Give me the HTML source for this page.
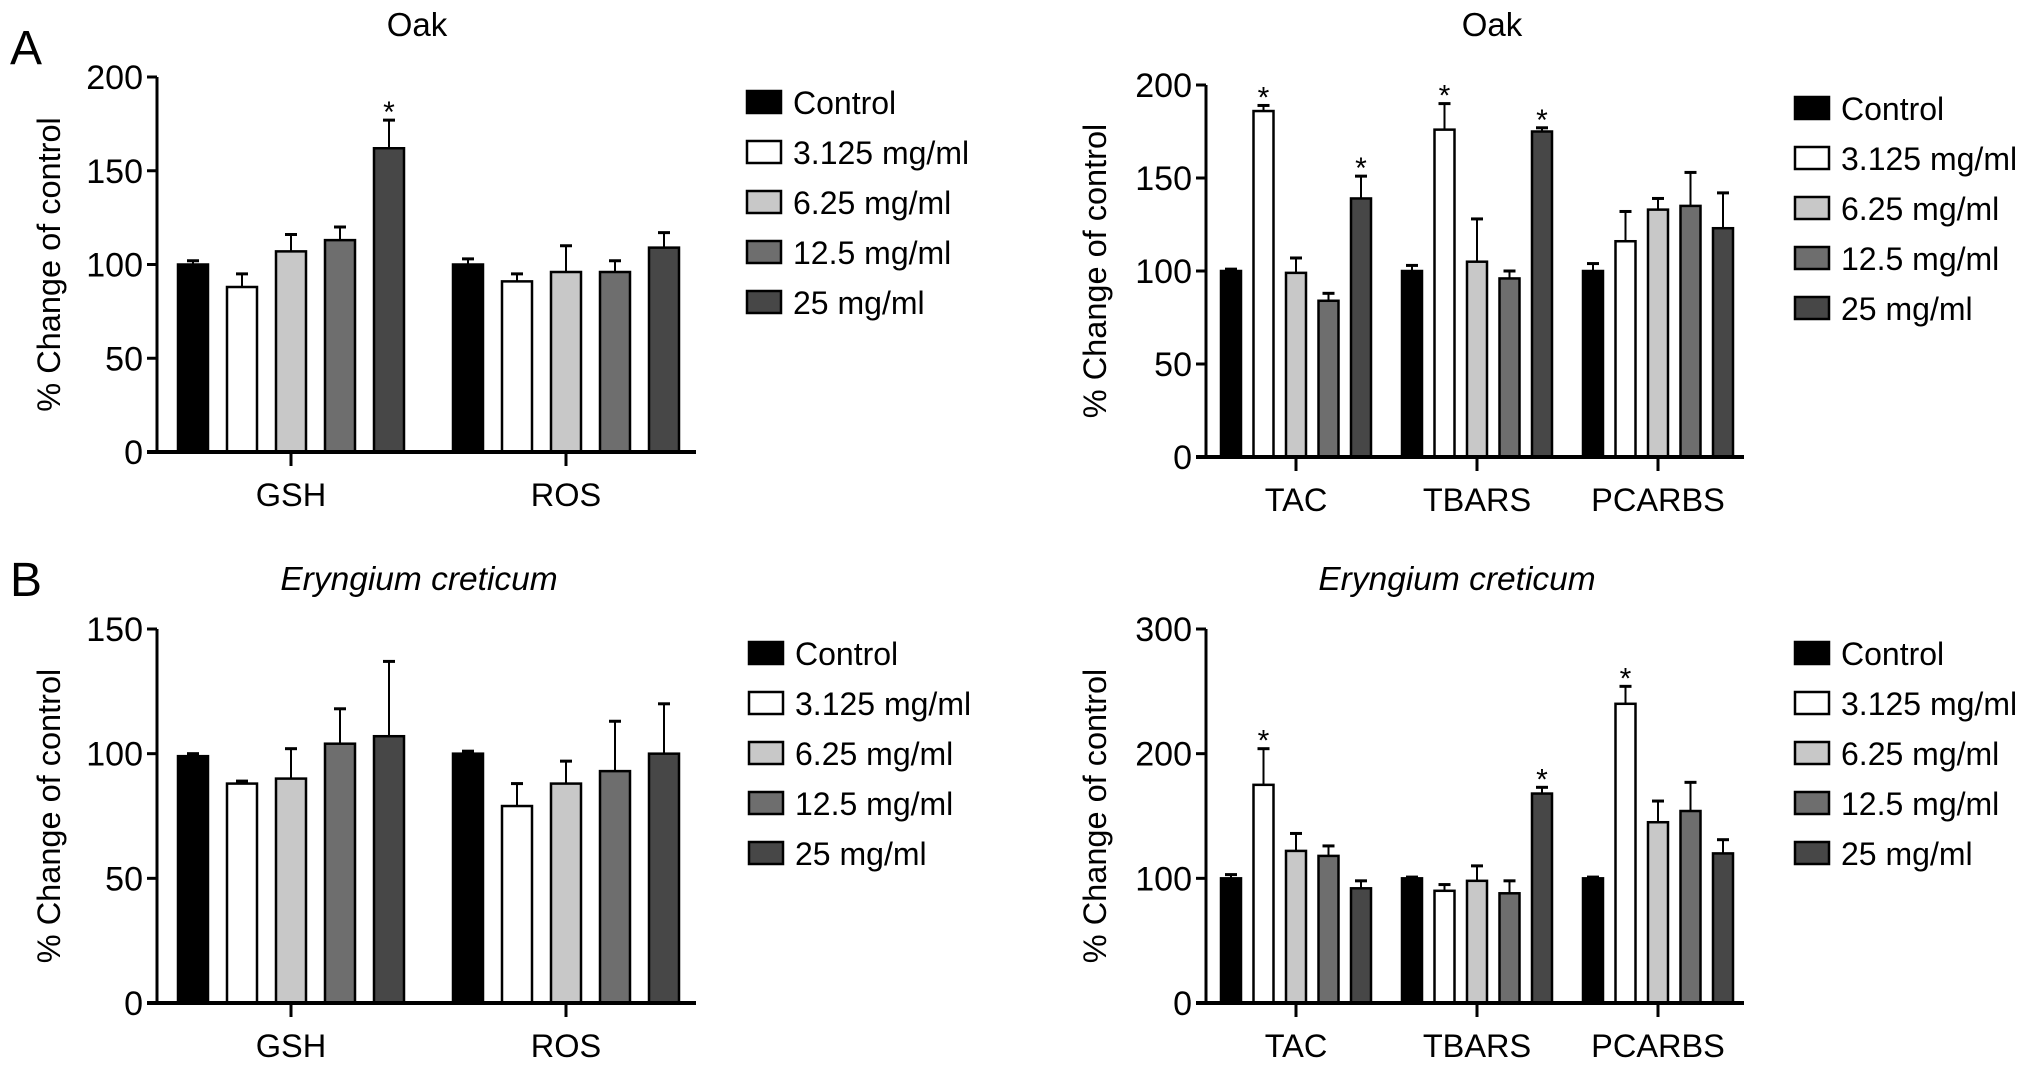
<!DOCTYPE html>
<html><head><meta charset="utf-8">
<style>
html,body{margin:0;padding:0;background:#fff;}
svg{display:block;font-family:"Liberation Sans",Arial,sans-serif;}
</style></head>
<body>
<svg id="fig" width="2032" height="1065" viewBox="0 0 2032 1065" xmlns="http://www.w3.org/2000/svg">
<text x="10" y="64" font-size="48">A</text>
<text x="10" y="596" font-size="48">B</text>
</svg>
<script>
// ---- data ----
const seriesNames = ["Control","3.125 mg/ml","6.25 mg/ml","12.5 mg/ml","25 mg/ml"];
const catsLeft = ["GSH","ROS"];
const catsRight = ["TAC","TBARS","PCARBS"];
const oakLeftMeans = [[100,88,107,113,162],[100,91,96,96,109]];
const oakLeftErr = [[102,95,116,120,177],[103,95,110,102,117]];
const oakLeftStar = [[0,0,0,0,1],[0,0,0,0,0]];
const oakRightMeans = [[100,186,99,84,139],[100,176,105,96,175],[100,116,133,135,123]];
const oakRightErr = [[101,189,107,88,151],[103,190,128,100,177],[104,132,139,153,142]];
const oakRightStar = [[0,1,0,0,1],[0,1,0,0,1],[0,0,0,0,0]];
const eryLeftMeans = [[99,88,90,104,107],[100,79,88,93,100]];
const eryLeftErr = [[100,89,102,118,137],[101,88,97,113,120]];
const eryLeftStar = [[0,0,0,0,0],[0,0,0,0,0]];
const eryRightMeans = [[100,175,122,118,92],[100,90,98,88,168],[100,240,145,154,120]];
const eryRightErr = [[103,204,136,126,98],[101,95,110,98,173],[101,254,162,177,131]];
const eryRightStar = [[0,1,0,0,0],[0,0,0,0,1],[0,1,0,0,0]];
const ticksA = [0,50,100,150,200];
const ticksBL = [0,50,100,150];
const ticksBR = [0,100,200,300];

const fills = ["#000000","#ffffff","#c8c8c8","#6e6e6e","#474747"];
const NS = "http://www.w3.org/2000/svg";
const svg = document.getElementById("fig");
function mk(tag, attrs, parent){
  const e = document.createElementNS(NS, tag);
  for (const k in attrs) e.setAttribute(k, attrs[k]);
  (parent||svg).appendChild(e);
  return e;
}

function panel(p){
  const g = mk("g", {});
  
  
  const ymax = p.ticks[p.ticks.length-1];
  const Y = v => p.y0 - (v/ymax)*(p.y0 - p.ytop);
  const t = mk("text", {x:p.titleX, y:p.titleY, "font-size":p.italic?33.5:33, "text-anchor":"middle", "font-style":p.italic?"italic":"normal"}, g);
  t.textContent = p.title;
  
  
  const yt = mk("text", {x:0, y:0, "font-size":32.5, "text-anchor":"middle", transform:`translate(${p.ytX},${(p.y0+p.ytop)/2}) rotate(-90)`}, g);
  yt.textContent = "% Change of control";
  
  
  p.means.forEach((grp, gi) => {
    grp.forEach((v, si) => {
      const x = p.ax + p.off + gi*p.gstep + si*p.step;
      const cx = x + p.bw/2;
      const eTop = Y(p.err[gi][si]);
      const el = mk("line", {x1:cx, x2:cx, y1:Y(v), y2:eTop, stroke:"#000", "stroke-width":2}, g);
      
      
      const cap = mk("line", {x1:cx-6, x2:cx+6, y1:eTop, y2:eTop, stroke:"#000", "stroke-width":3}, g);
      
      
      const r = mk("rect", {x:x, y:Y(v), width:p.bw, height:p.y0-Y(v), fill:fills[si], stroke:"#000", "stroke-width":2.5}, g);
      
      
      if (p.star[gi][si]) {
        const s = mk("text", {x:cx, y:eTop+2, "font-size":30, "text-anchor":"middle"}, g);
        s.textContent = "*";
        
        
      }
    });
    const gc = p.ax + p.off + gi*p.gstep + (4*p.step + p.bw)/2;
    const tk = mk("line", {x1:gc, x2:gc, y1:p.y0, y2:p.y0+14, stroke:"#000", "stroke-width":3}, g);
    
    
    const lb = mk("text", {x:gc, y:p.y0+54, "font-size":32.5, "text-anchor":"middle"}, g);
    lb.textContent = p.cats[gi];
    
    
  });
  const ya = mk("line", {x1:p.ax, x2:p.ax, y1:p.ytop, y2:p.y0+1.5, stroke:"#000", "stroke-width":3}, g);
  
  
  const xa = mk("line", {x1:p.ax-10, x2:p.axEnd, y1:p.y0, y2:p.y0, stroke:"#000", "stroke-width":4}, g);
  
  
  p.ticks.forEach(tv => {
    const yy = Y(tv);
    const tl = mk("line", {x1:p.ax-10, x2:p.ax, y1:yy, y2:yy, stroke:"#000", "stroke-width":3}, g);
    
    
    const tt = mk("text", {x:p.ax-14, y:yy+12, "font-size":34, "text-anchor":"end"}, g);
    tt.textContent = tv;
    
    
  });
  seriesNames.forEach((n, i) => {
    const cy = p.legY + i*p.legStep;
    const lr = mk("rect", {x:p.legX, y:cy-11, width:34, height:22, fill:fills[i], stroke:"#000", "stroke-width":2.5}, g);
    
    
    const lt = mk("text", {x:p.legX+46, y:cy+12, "font-size":32}, g);
    lt.textContent = n;
    
    
  });
}

panel({name:"chart-oak-gsh-ros", title:"Oak", italic:false, titleX:417, titleY:36, ytX:60,
  ax:157, axEnd:696, y0:452, ytop:77, ticks:ticksA, cats:catsLeft,
  means:oakLeftMeans, err:oakLeftErr, star:oakLeftStar, off:21, bw:30, step:49, gstep:275,
  legX:747, legY:102, legStep:50});
panel({name:"chart-oak-tac-tbars-pcarbs", title:"Oak", italic:false, titleX:1492, titleY:36, ytX:1106,
  ax:1206, axEnd:1744, y0:457, ytop:85, ticks:ticksA, cats:catsRight,
  means:oakRightMeans, err:oakRightErr, star:oakRightStar, off:15, bw:20, step:32.5, gstep:181,
  legX:1795, legY:108, legStep:50});
panel({name:"chart-eryngium-gsh-ros", title:"Eryngium creticum", italic:true, titleX:419, titleY:590, ytX:60,
  ax:157, axEnd:696, y0:1003, ytop:629, ticks:ticksBL, cats:catsLeft,
  means:eryLeftMeans, err:eryLeftErr, star:eryLeftStar, off:21, bw:30, step:49, gstep:275,
  legX:749, legY:653, legStep:50});
panel({name:"chart-eryngium-tac-tbars-pcarbs", title:"Eryngium creticum", italic:true, titleX:1457, titleY:590, ytX:1106,
  ax:1206, axEnd:1744, y0:1003, ytop:629, ticks:ticksBR, cats:catsRight,
  means:eryRightMeans, err:eryRightErr, star:eryRightStar, off:15, bw:20, step:32.5, gstep:181,
  legX:1795, legY:653, legStep:50});
</script>
</body></html>
